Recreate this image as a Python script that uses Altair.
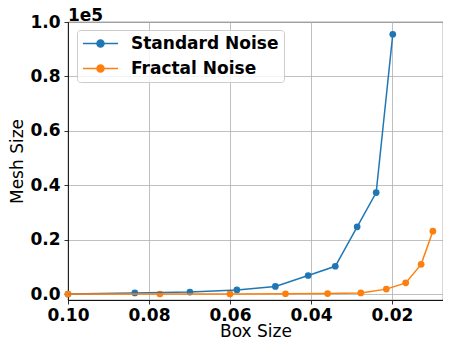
import altair as alt
import pandas as pd

# Data
std_box = [0.100, 0.0835, 0.0699, 0.0583, 0.0488, 0.0407, 0.0340, 0.0286, 0.0239, 0.0198]
std_mesh = [0, 400, 700, 1500, 2800, 6800, 10200, 24700, 37300, 95500]
frac_box = [0.100, 0.0773, 0.0600, 0.0463, 0.0359, 0.0277, 0.0214, 0.0166, 0.0128, 0.0099]
frac_mesh = [0, 0, 50, 100, 150, 400, 1800, 4100, 10900, 23100]
series_names = ["Standard Noise", "Fractal Noise"]
series_colors = ["#1f77b4", "#ff7f0e"]
x_ticks = [0.10, 0.08, 0.06, 0.04, 0.02]
y_ticks = [0, 20000, 40000, 60000, 80000, 100000]

rows = []
for b, m in zip(std_box, std_mesh):
    rows.append({"box": b, "mesh": m, "series": series_names[0], "order": b})
for b, m in zip(frac_box, frac_mesh):
    rows.append({"box": b, "mesh": m, "series": series_names[1], "order": b})
df = pd.DataFrame(rows)

FONT = "DejaVu Sans"

x_enc = alt.X(
    "box:Q",
    scale=alt.Scale(domain=[0.10, 0.0074], nice=False, zero=False),
    axis=alt.Axis(values=x_ticks, format=".2f", title="Box Size"),
)
y_enc = alt.Y(
    "mesh:Q",
    scale=alt.Scale(domain=[-2200, 100000], nice=False, zero=False),
    axis=alt.Axis(values=y_ticks, labelExpr="format(datum.value / 100000, '.1f')", title="Mesh Size"),
)
color_scale = alt.Scale(domain=series_names, range=series_colors)

legend = alt.Legend(
    title=None,
    orient="none",
    legendX=9,
    legendY=8,
    symbolType="M-5,0L5,0M-1,0A1,1,0,1,0,1,0A1,1,0,1,0,-1,0Z",
    symbolSize=49,
    symbolStrokeWidth=1.5,
    symbolOffset=10,
    labelOffset=22,
    labelFontSize=17,
    labelFontWeight="bold",
    labelFont=FONT,
    labelColor="black",
    padding=5,
    rowPadding=7,
    fillColor="rgba(255,255,255,0.8)",
    strokeColor="#cccccc",
    cornerRadius=3,
)

points = alt.Chart(df).mark_circle(size=45, opacity=1).encode(
    x=x_enc, y=y_enc,
    color=alt.Color("series:N", scale=color_scale, legend=legend),
)
lines = alt.Chart(df).mark_line(strokeWidth=1.5).encode(
    x=x_enc, y=y_enc,
    color=alt.Color("series:N", scale=color_scale, legend=legend),
    order=alt.Order("order:Q", sort="descending"),
)
exp_label = alt.Chart(pd.DataFrame({"t": ["1e5"]})).mark_text(
    align="left", baseline="alphabetic", fontSize=17, fontWeight="bold", font=FONT, color="black"
).encode(text="t:N", x=alt.value(0), y=alt.value(-1))

chart = alt.layer(points, lines, exp_label).properties(
    width=375,
    height=278,
    autosize=alt.AutoSizeParams(type="none"),
    padding={"left": 60, "top": 14, "right": 0, "bottom": 41},
).configure_view(
    stroke="black", strokeWidth=0.8
).configure_axis(
    grid=True,
    gridColor="#b0b0b0",
    gridWidth=0.8,
    domainColor="black",
    domainWidth=0.8,
    tickColor="black",
    tickWidth=0.8,
    tickSize=4,
    labelPadding=3,
    labelFont=FONT,
    labelFontSize=17,
    labelFontWeight="bold",
    labelColor="black",
    titleFont=FONT,
    titleFontSize=17,
    titleFontWeight="normal",
    titleColor="black",
).configure_axisX(
    titlePadding=0, labelFlush=False
).configure_axisY(
    titlePadding=3, labelFlush=False, labelPadding=4
)

chart.save("out.html", embed_options={"renderer": "svg", "actions": False})
